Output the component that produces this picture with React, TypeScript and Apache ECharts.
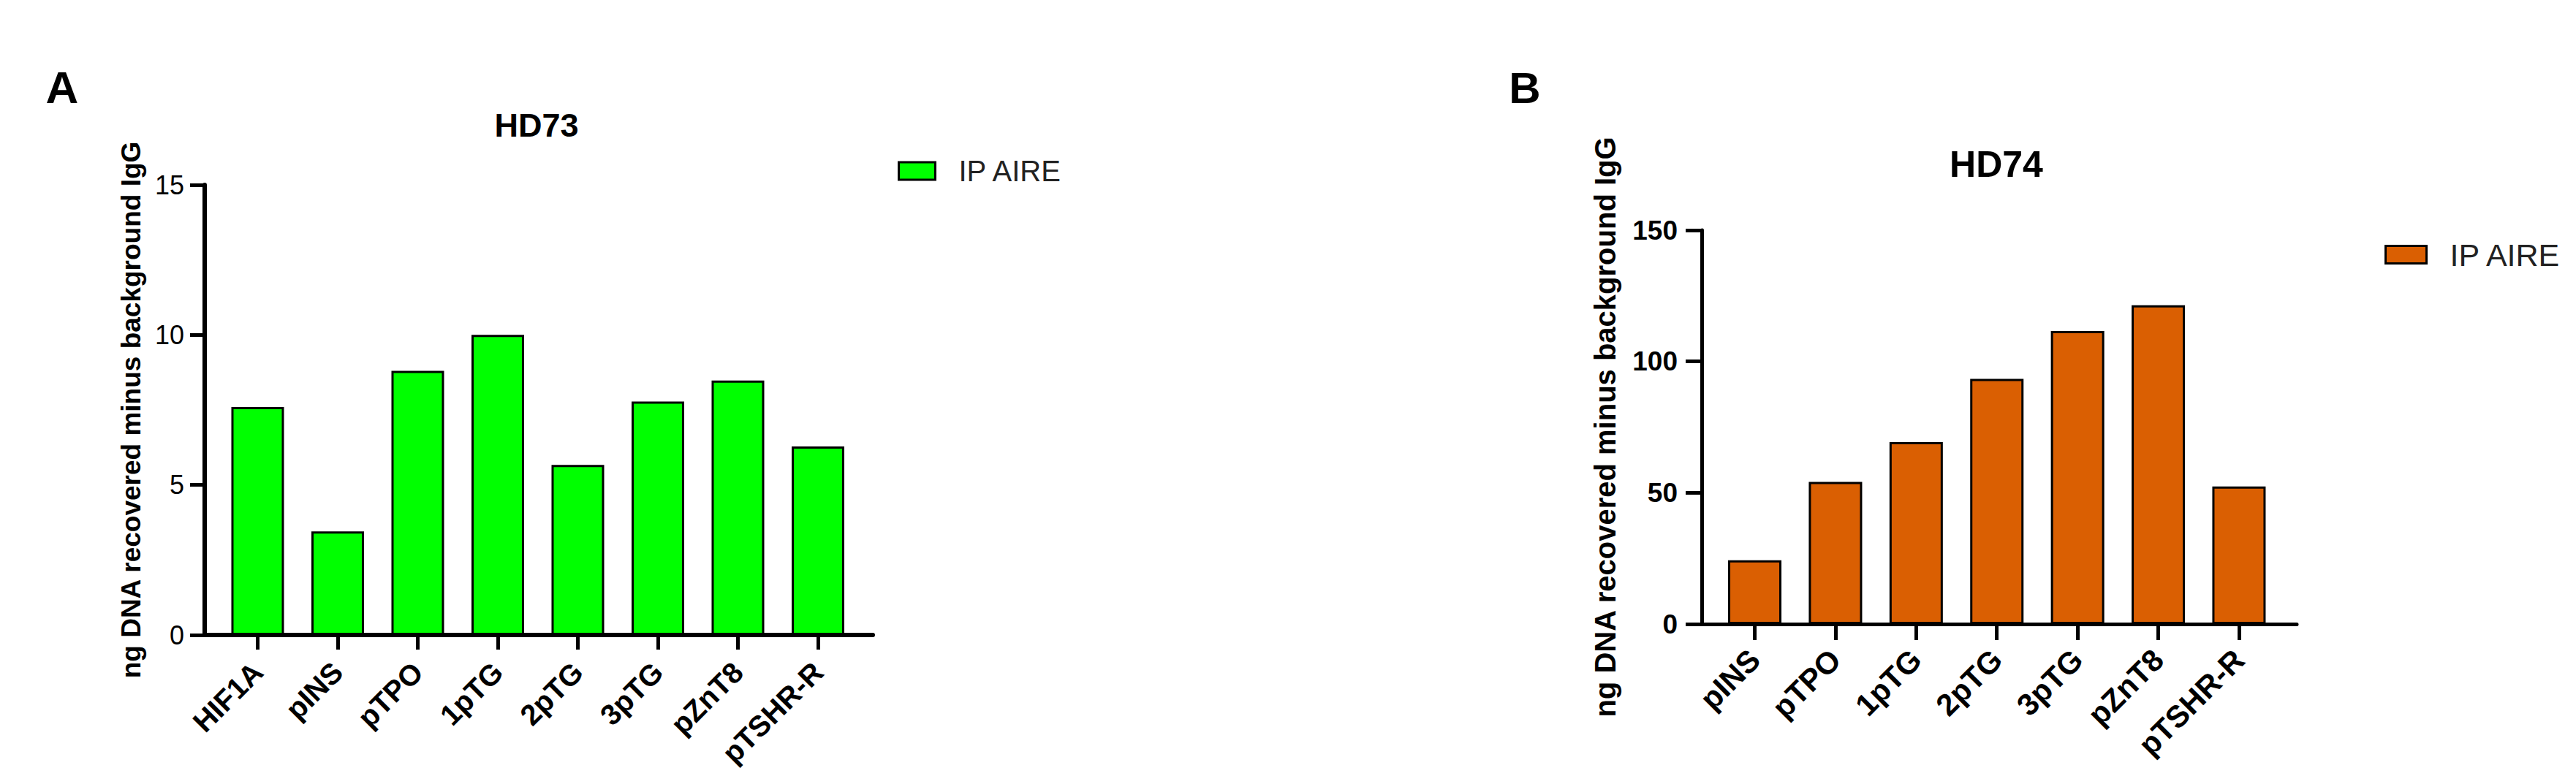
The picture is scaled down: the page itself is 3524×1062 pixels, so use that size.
import React, { useEffect, useRef } from "react";
import * as echarts from "echarts";

// ---------- data ----------
const categoriesA = ["HIF1A", "pINS", "pTPO", "1pTG", "2pTG", "3pTG", "pZnT8", "pTSHR-R"];
const valuesA = [7.6, 3.45, 8.8, 10.0, 5.67, 7.78, 8.48, 6.28];
const categoriesB = ["pINS", "pTPO", "1pTG", "2pTG", "3pTG", "pZnT8", "pTSHR-R"];
const valuesB = [24.3, 54.1, 69.3, 93.4, 111.6, 121.4, 52.4];
const yRangeA = [0, 15];
const yStepA = 5;
const yRangeB = [0, 150];
const yStepB = 50;
const seriesLabel = "IP AIRE";
const seriesNameA = "IP AIRE (HD73)";
const seriesNameB = "IP AIRE (HD74)";
const titleA = "HD73";
const titleB = "HD74";
const panelA = "A";
const panelB = "B";
const yAxisTitle = "ng DNA recovered minus background IgG";

const FONT = "'Liberation Sans', Arial, Helvetica, sans-serif";
const NARROW = "'Liberation Sans Narrow', 'Arial Narrow', 'Liberation Sans', Arial, sans-serif";

export default function App() {
  const ref = useRef<HTMLDivElement>(null);

  useEffect(() => {
    if (!ref.current) return;
    const chart = echarts.init(ref.current, null, { renderer: "svg" });
    const idxA = categoriesA.map((_, i) => i);
    const idxB = categoriesB.map((_, i) => i);

    const option: any = {
      animation: false,
      backgroundColor: "#ffffff",
      grid: [
        { left: 280, top: 253, width: 914, height: 616 },
        { left: 2328, top: 315, width: 814, height: 539 },
      ],
      xAxis: [
        {
          gridIndex: 0,
          type: "value",
          min: -0.662,
          max: 7.685,
          splitLine: { show: false },
          axisLine: { show: true, onZero: false, lineStyle: { color: "#000", width: 6 } },
          axisTick: { show: true, customValues: idxA, length: 20, lineStyle: { color: "#000", width: 5 } },
          axisLabel: {
            customValues: idxA,
            formatter: (v: number) => categoriesA[Math.round(v)] ?? "",
            rotate: 45,
            margin: 44,
            fontSize: 40,
            fontWeight: "bold",
            color: "#000",
            fontFamily: FONT,
          },
        },
        {
          gridIndex: 1,
          type: "value",
          min: -0.657,
          max: 6.716,
          splitLine: { show: false },
          axisLine: { show: true, onZero: false, lineStyle: { color: "#000", width: 5 } },
          axisTick: { show: true, customValues: idxB, length: 22, lineStyle: { color: "#000", width: 5 } },
          axisLabel: {
            customValues: idxB,
            formatter: (v: number) => categoriesB[Math.round(v)] ?? "",
            rotate: 45,
            margin: 42,
            fontSize: 42,
            fontWeight: "bold",
            color: "#000",
            fontFamily: FONT,
          },
        },
      ],
      yAxis: [
        {
          gridIndex: 0,
          type: "value",
          min: yRangeA[0],
          max: yRangeA[1],
          interval: yStepA,
          splitLine: { show: false },
          axisLine: { show: true, onZero: false, lineStyle: { color: "#000", width: 6 } },
          axisTick: { show: true, length: 20, lineStyle: { color: "#000", width: 5 } },
          axisLabel: { margin: 28, fontSize: 36, color: "#000", fontFamily: NARROW },
          name: yAxisTitle,
          nameLocation: "middle",
          nameGap: 82,
          nameTextStyle: { fontSize: 37, fontWeight: "bold", color: "#000", fontFamily: FONT },
        },
        {
          gridIndex: 1,
          type: "value",
          min: yRangeB[0],
          max: yRangeB[1],
          interval: yStepB,
          splitLine: { show: false },
          axisLine: { show: true, onZero: false, lineStyle: { color: "#000", width: 5 } },
          axisTick: { show: true, length: 22, lineStyle: { color: "#000", width: 5 } },
          axisLabel: { margin: 33, fontSize: 37, fontWeight: "bold", color: "#000", fontFamily: FONT },
          name: yAxisTitle,
          nameLocation: "middle",
          nameGap: 112,
          nameTextStyle: { fontSize: 40, fontWeight: "bold", color: "#000", fontFamily: FONT },
        },
      ],
      legend: [
        {
          data: [seriesNameA],
          formatter: () => seriesLabel,
          selectedMode: false,
          left: 1228,
          top: 214,
          padding: 0,
          icon: "rect",
          itemWidth: 50,
          itemHeight: 24,
          itemStyle: { borderColor: "#000", borderWidth: 3 },
          textStyle: { fontSize: 40, color: "#222", fontFamily: FONT, padding: [0, 0, 0, 27] },
        },
        {
          data: [seriesNameB],
          formatter: () => seriesLabel,
          selectedMode: false,
          left: 3262,
          top: 327,
          padding: 0,
          icon: "rect",
          itemWidth: 56,
          itemHeight: 24,
          itemStyle: { borderColor: "#000", borderWidth: 3 },
          textStyle: { fontSize: 43, color: "#222", fontFamily: FONT, padding: [0, 0, 0, 27] },
        },
      ],
      graphic: [
        {
          type: "text",
          x: 85,
          y: 119,
          style: { text: panelA, fontSize: 62, fontWeight: "bold", fill: "#000", fontFamily: FONT, align: "center", verticalAlign: "middle", textAlign: "center", textVerticalAlign: "middle" },
        },
        {
          type: "text",
          x: 2086,
          y: 120,
          style: { text: panelB, fontSize: 60, fontWeight: "bold", fill: "#000", fontFamily: FONT, align: "center", verticalAlign: "middle", textAlign: "center", textVerticalAlign: "middle" },
        },
        {
          type: "text",
          x: 734,
          y: 171,
          style: { text: titleA, fontSize: 45, fontWeight: "bold", fill: "#000", fontFamily: FONT, align: "center", verticalAlign: "middle", textAlign: "center", textVerticalAlign: "middle" },
        },
        {
          type: "text",
          x: 2731,
          y: 225,
          style: { text: titleB, fontSize: 50, fontWeight: "bold", fill: "#000", fontFamily: FONT, align: "center", verticalAlign: "middle", textAlign: "center", textVerticalAlign: "middle" },
        },
      ],
      series: [
        {
          type: "bar",
          name: seriesNameA,
          xAxisIndex: 0,
          yAxisIndex: 0,
          barWidth: 72,
          data: valuesA.map((v, i) => [i, v]),
          itemStyle: { color: "#00FF00", borderColor: "#000", borderWidth: 3 },
        },
        {
          type: "bar",
          name: seriesNameB,
          xAxisIndex: 1,
          yAxisIndex: 1,
          barWidth: 73,
          data: valuesB.map((v, i) => [i, v]),
          itemStyle: { color: "#DA5F02", borderColor: "#000", borderWidth: 3 },
        },
      ],
    };

    chart.setOption(option);
    return () => chart.dispose();
  }, []);

  return (
    <div
      ref={ref}
      style={{ position: "fixed", left: 0, top: 0, width: 3524, height: 1062, background: "#fff" }}
    />
  );
}
